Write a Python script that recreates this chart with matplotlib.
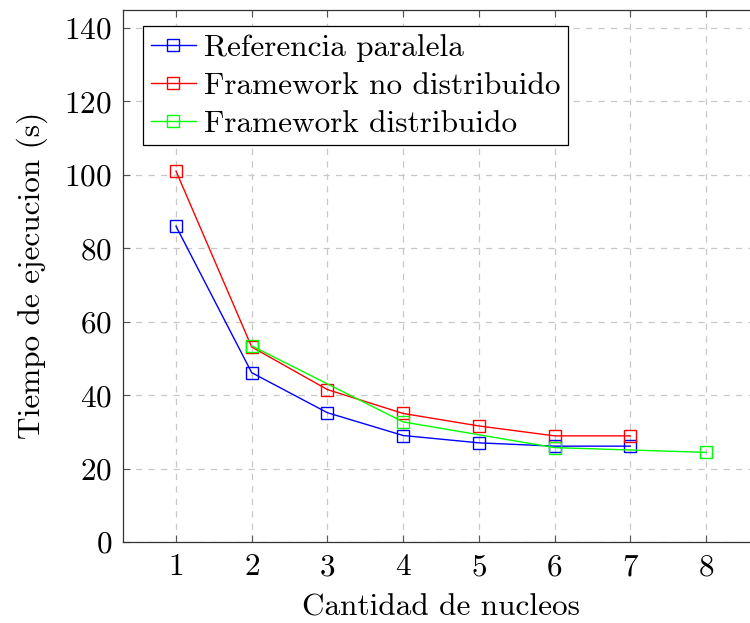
import matplotlib
matplotlib.use("Agg")
import matplotlib.pyplot as plt

plt.rcParams["font.family"] = "serif"
plt.rcParams["font.serif"] = ["cmr10"]
plt.rcParams["mathtext.fontset"] = "cm"
plt.rcParams["axes.formatter.use_mathtext"] = True
plt.rcParams["axes.unicode_minus"] = False

# Execution time (s) against number of cores
cores_ref = [1, 2, 3, 4, 5, 6, 7]
time_ref = [86.0, 46.1, 35.2, 29.0, 27.0, 26.1, 26.1]

cores_local = [1, 2, 3, 4, 5, 6, 7]
time_local = [101.0, 53.1, 41.5, 35.0, 31.6, 28.9, 28.9]

cores_dist = [2, 4, 6, 8]
time_dist = [53.4, 32.7, 25.7, 24.4]

labels = ["Referencia paralela", "Framework no distribuido", "Framework distribuido"]
xticks = [1, 2, 3, 4, 5, 6, 7, 8]
yticks = [0, 20, 40, 60, 80, 100, 120, 140]

FS = 22.5

fig = plt.figure(figsize=(7.5, 6.23), dpi=100)
ax = fig.add_axes([123 / 750, 81 / 623, 636 / 750, 532.5 / 623])

style = dict(marker="s", markersize=8, markerfacecolor="none",
             markeredgewidth=1.0, linewidth=1.0)
ax.plot(cores_ref, time_ref, color="#0000ff", label=labels[0], **style)
ax.plot(cores_local, time_local, color="#ff0000", label=labels[1], **style)
ax.plot(cores_dist, time_dist, color="#00ff00", label=labels[2], **style)

ax.set_xlim(0.3, 8.7)
ax.set_ylim(0, 145)
ax.set_xticks(xticks)
ax.set_yticks(yticks)
ax.tick_params(direction="in", length=5, width=0.8, color="#555555",
               top=True, right=True, labelsize=FS, pad=8)

ax.grid(True, color="#c8c8c8", linestyle=(0, (5, 5)), linewidth=0.9)
ax.set_axisbelow(True)
for s in ax.spines.values():
    s.set_linewidth(0.9)
    s.set_color("#333333")

ax.set_xlabel("Cantidad de nucleos", fontsize=FS, labelpad=9)
ax.set_ylabel("Tiempo de ejecucion (s)", fontsize=FS, labelpad=12)

leg = ax.legend(loc="upper left", bbox_to_anchor=(0.031, 0.969),
                borderaxespad=0, fontsize=FS, frameon=True, fancybox=False,
                edgecolor="black", framealpha=1, handlelength=1.45,
                handletextpad=0.25, labelspacing=0.32, borderpad=0.25)
leg.get_frame().set_linewidth(0.9)

fig.savefig("out.png", dpi=100)
